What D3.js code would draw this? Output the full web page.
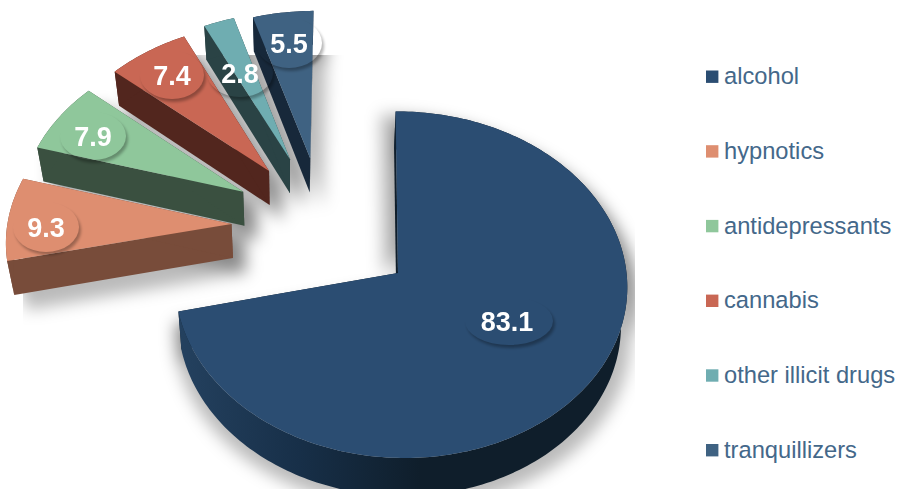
<!DOCTYPE html>
<html>
<head>
<meta charset="utf-8">
<script src="https://cdn.jsdelivr.net/npm/d3@7"></script>
<style>
html, body { margin: 0; padding: 0; background: #fff; }
svg { display: block; }
</style>
</head>
<body>
<svg id="chart" width="898" height="489"></svg>
<script>
// Substance shares
const categories = ["alcohol", "hypnotics", "antidepressants", "cannabis", "other illicit drugs", "tranquillizers"];
const values = [83.1, 9.3, 7.9, 7.4, 2.8, 5.5];
const topColors = ["#2b4d72", "#de8e70", "#8fc79b", "#c96754", "#6fadb1", "#3f6282"];
const sideColors = ["#0f1e2b", "#784c3a", "#3a5040", "#52261e", "#2a4345", "#17283a"];

// Layout of the tilted disc, in disc units and pixels
const cx = 398, cy = 273, radiusX = 228.5, radiusY = 172.45, tilt = 0.0678;
const depth = 34;
// Extrusion converges on a vanishing column; the big wedge is nearer and uses its own
const vanishX = [322, 290, 290, 290, 290, 290];
const converge = [0.0206, 0.025, 0.025, 0.025, 0.025, 0.025];
const extraDepth = [4, 0, 0, 0, 0, 0];
// How far each wedge is pulled out of the disc (right, up)
const explodeU = [0, -0.743, -0.7, -0.588, -0.495, -0.402];
const explodeV = [0, 0.29, 0.487, 0.616, 0.69, 0.695];
// Label bubbles: centre and radii
const bubbleX = [509, 46, 93, 172, 240, 289];
const bubbleY = [321, 227, 136, 75, 73, 43];
const bubbleRx = [44, 33, 33, 32, 33, 33];
const bubbleRy = [24, 25, 24, 24, 24, 25];

const svg = d3.select("#chart");
const defs = svg.append("defs");

defs.append("filter").attr("id", "soft")
  .attr("filterUnits", "userSpaceOnUse")
  .attr("x", -50).attr("y", -50).attr("width", 1000).attr("height", 650)
  .append("feGaussianBlur").attr("stdDeviation", 8);

defs.append("clipPath").attr("id", "shadowArea")
  .append("rect").attr("x", 23).attr("y", 55).attr("width", 612).attr("height", 434);

const rimGradient = defs.append("linearGradient").attr("id", "rim")
  .attr("gradientUnits", "userSpaceOnUse")
  .attr("x1", 180).attr("x2", 420).attr("y1", 0).attr("y2", 0);
rimGradient.append("stop").attr("offset", 0).attr("stop-color", "#24415f");
rimGradient.append("stop").attr("offset", 0.5).attr("stop-color", "#172f48");
rimGradient.append("stop").attr("offset", 1).attr("stop-color", sideColors[0]);

// Outer-only shadow of the label bubbles
const bubbleFilter = defs.append("filter").attr("id", "bubble")
  .attr("x", "-30%").attr("y", "-30%").attr("width", "160%").attr("height", "160%");
bubbleFilter.append("feGaussianBlur").attr("in", "SourceAlpha").attr("stdDeviation", 1.6).attr("result", "b");
bubbleFilter.append("feOffset").attr("in", "b").attr("dx", 2).attr("dy", 2.5).attr("result", "o");
bubbleFilter.append("feComposite").attr("in", "o").attr("in2", "SourceAlpha").attr("operator", "out").attr("result", "c");
bubbleFilter.append("feComponentTransfer").attr("in", "c")
  .append("feFuncA").attr("type", "linear").attr("slope", 0.3);

// Perspective projection of a point on the disc
function project(u, v) {
  const w = 1 + tilt * v;
  return [cx + radiusX * u / w, cy - radiusY * v / w];
}
// The same point on the lower plane of the extrusion
function drop(p, i) {
  return [vanishX[i] + (p[0] - vanishX[i]) * (1 - converge[i]), p[1] + depth + extraDepth[i]];
}

const pie = d3.pie().sort(null).value(d => d)
  .startAngle(-0.6 * Math.PI / 180)
  .endAngle((360 - 0.6) * Math.PI / 180);
const arcs = pie(values);

// Rim of each wedge; the big wedge sits slightly off the disc axis and leans left at the top
const rims = arcs.map((a, i) => {
  const steps = Math.max(4, Math.ceil((a.endAngle - a.startAngle) / 0.02));
  return d3.range(steps + 1).map(s => {
    const t = a.startAngle + (a.endAngle - a.startAngle) * s / steps;
    if (i === 0) {
      const p = project(0.0131 + 0.987 * Math.sin(t), Math.cos(t));
      return [p[0] + (p[1] - cy) * 0.0185, p[1]];
    }
    return project(explodeU[i] + Math.sin(t), explodeV[i] + Math.cos(t));
  });
});
const apexes = arcs.map((a, i) => project(explodeU[i], explodeV[i]));

const path = d3.line();
const closed = pts => path(pts) + "Z";
const order = [5, 4, 3, 2, 1, 0];

// Everything below the top face of one wedge, as closed point lists
function sidePolys(i) {
  const rim = rims[i], apex = apexes[i];
  const band = [...rim, ...rim.map(p => drop(p, i)).reverse()];
  const first = [apex, rim[0], drop(rim[0], i), drop(apex, i)];
  const last = [apex, rim[rim.length - 1], drop(rim[rim.length - 1], i), drop(apex, i)];
  return [first, last, band];
}

// Drop shadows, kept inside the plot rectangle
const shadowLayer = svg.append("g").attr("clip-path", "url(#shadowArea)")
  .append("g").attr("filter", "url(#soft)").attr("fill", "#000").attr("fill-opacity", 0.27);

order.forEach(i => {
  const g = shadowLayer.append("g").attr("transform",
    i === 0 ? `translate(${cx + 3},12) scale(1.03,1) translate(${-cx},0)` : "translate(13,15)");
  g.append("path").attr("d", closed([apexes[i], ...rims[i]]));
  sidePolys(i).forEach(poly => g.append("path").attr("d", closed(poly)));
});
// Shadow thrown to the left of the upright edge of the big wedge
shadowLayer.append("path")
  .attr("transform", "translate(-15,3)")
  .attr("d", closed([apexes[0], ...rims[0].slice(0, 30)]));

// Wedges, back to front: extruded sides first, then the top face
order.forEach(i => {
  const g = svg.append("g").attr("class", "wedge");
  const sideFill = i === 0 ? "url(#rim)" : sideColors[i];
  g.selectAll("path.side")
    .data(sidePolys(i))
    .join("path")
    .attr("class", "side")
    .attr("d", closed)
    .attr("fill", (d, j) => j === 2 ? sideFill : sideColors[i]);
  g.append("path").attr("class", "face").attr("d", closed([apexes[i], ...rims[i]])).attr("fill", topColors[i]);
});

// Value labels
const labels = svg.append("g");
labels.selectAll("ellipse")
  .data(values)
  .join("ellipse")
  .attr("cx", (d, i) => bubbleX[i])
  .attr("cy", (d, i) => bubbleY[i])
  .attr("rx", (d, i) => bubbleRx[i])
  .attr("ry", (d, i) => bubbleRy[i])
  .attr("fill", "#000")
  .attr("filter", "url(#bubble)");
labels.selectAll("text")
  .data(values)
  .join("text")
  .attr("x", (d, i) => bubbleX[i] + (i === 0 ? -2 : 0))
  .attr("y", (d, i) => bubbleY[i])
  .attr("dy", "0.36em")
  .attr("text-anchor", "middle")
  .attr("font-family", "'Liberation Sans', Arial, sans-serif")
  .attr("font-weight", 700)
  .attr("font-size", 27)
  .attr("fill", "#fff")
  .text(d => d.toFixed(1));

// Legend
const legendY = d3.scalePoint().domain(categories).range([76.7, 450.2]);
const legend = svg.append("g").selectAll("g")
  .data(categories)
  .join("g")
  .attr("transform", d => `translate(706,${legendY(d)})`);
legend.append("rect")
  .attr("x", 0).attr("y", -6.2)
  .attr("width", 12.4).attr("height", 12.4)
  .attr("fill", (d, i) => topColors[i]);
legend.append("text")
  .attr("x", 18)
  .attr("y", 0)
  .attr("dy", "0.32em")
  .attr("font-family", "'Liberation Sans', Arial, sans-serif")
  .attr("font-size", 23.7)
  .attr("fill", "#44688a")
  .text(d => d);
</script>
</body>
</html>
